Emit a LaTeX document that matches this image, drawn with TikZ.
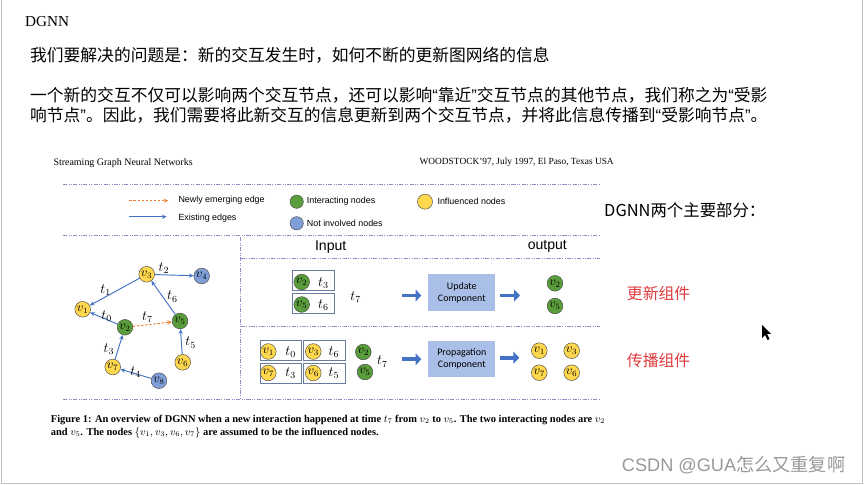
\documentclass[tikz,border=0pt]{standalone}
\usepackage{amsmath}
\usepackage{fontspec}
\setmainfont{Liberation Serif}
\setsansfont{Liberation Sans}
\newfontfamily\cjk{Noto Sans CJK SC}
\newfontfamily\cali{Carlito}
\usetikzlibrary{calc,arrows.meta}
\definecolor{sgreen}{HTML}{5A9E3C}
\definecolor{syellow}{HTML}{FFD84D}
\definecolor{sblue}{HTML}{7F9FD9}
\definecolor{sedge}{HTML}{4472C4}
\definecolor{sorange}{HTML}{ED7D31}
\definecolor{sframe}{HTML}{8C90C6}
\definecolor{sbox}{HTML}{A9BFE8}
\definecolor{sred}{HTML}{E03A3E}
\newcommand\zq[1]{{\sffamily “}#1{\sffamily ”}}

\begin{document}
\begin{tikzpicture}[x=0.03cm, y=-0.03cm,
    INN/.style={circle, draw=black!70, fill=sgreen, inner sep=0, minimum size=0.47cm, font=\fontsize{10.5}{10.5}\selectfont},
    IFN/.style={INN, fill=syellow},
    NIN/.style={INN, fill=sblue},
    EDG/.style={sedge, line width=0.8pt, -{Stealth[length=4pt,width=3.5pt]}},
    LAB/.style={inner sep=0, font=\fontsize{11.5}{11.5}\selectfont},
    FRM/.style={sframe, line width=0.8pt, dash pattern=on 3.5pt off 1.2pt on 0.8pt off 1.2pt on 0.8pt off 1.2pt},
    PAIR/.style={rectangle, draw=sedge!60!black!70, line width=0.6pt, minimum width=1.25cm, minimum height=0.6cm},
    COMP/.style={rectangle, fill=sbox, minimum width=2.01cm, minimum height=1.09cm, align=center, font=\cali\fontsize{8.5}{10}\selectfont},
    BIG/.style={sedge, line width=3.4pt, -{Triangle[length=5pt,width=10pt]}},
    LEG/.style={anchor=west, inner sep=0, font=\sffamily\fontsize{7.6}{8}\selectfont},
    ZH/.style={anchor=west, inner sep=0, font=\cjk\fontsize{14.3}{17}\selectfont}
    ]
    \fill[white] (0,0) rectangle (865,486);
    \useasboundingbox (0,0) rectangle (865,486);
    \draw[black!25] (0.8,0) -- (0.8,483.5) -- (862.5,483.5) -- (862.5,0);

    % slide text
    \node[anchor=west, inner sep=0, font=\fontsize{13}{14}\selectfont] (title) at (25,22) {DGNN};
    \node[ZH] (q1) at (30,55) {我们要解决的问题是：新的交互发生时，如何不断的更新图网络的信息};
    \node[ZH, anchor=north west, align=left, font=\cjk\fontsize{14.3}{17.2}\selectfont] (q2) at (30,87)
        {一个新的交互不仅可以影响两个交互节点，还可以影响\zq{靠近}交互节点的其他节点，我们称之为{\sffamily “}受影\\响节点{\sffamily ”}。因此，我们需要将此新交互的信息更新到两个交互节点，并将此信息传播到\zq{受影响节点}。};

    % paper header
    \node[anchor=west, inner sep=0, font=\fontsize{8.5}{9}\selectfont] (hl) at (53.3,162.7) {Streaming Graph Neural Networks};
    \node[anchor=east, inner sep=0, font=\fontsize{8}{9}\selectfont] (hr) at (614,162.7) {WOODSTOCK'97, July 1997, El Paso, Texas USA};

    % legend
    \coordinate (n0) at (129.3,200.7);
    \coordinate (n1) at (168.3,200.7);
    \coordinate (e0) at (129,216.7);
    \coordinate (e1) at (166.7,216.7);
    \draw[sorange, line width=0.8pt, dash pattern=on 2pt off 1.5pt, -{Stealth[length=4pt,width=3.5pt]}] (n0) -- (n1);
    \draw[EDG] (e0) -- (e1);
    \node[LEG] (ln) at (178.3,200) {Newly emerging edge};
    \node[LEG] (le) at (178.3,218.3) {Existing edges};
    \node[INN, minimum size=0.4cm] (gi) at (296.7,201.7) {};
    \node[NIN, minimum size=0.4cm] (gn) at (296.7,223.3) {};
    \node[IFN, minimum size=0.45cm] (gf) at (425,201.7) {};
    \node[LEG] (li) at (306.7,201.7) {Interacting nodes};
    \node[LEG] (lo) at (306.7,223.3) {Not involved nodes};
    \node[LEG] (lf) at (437.3,201.7) {Influenced nodes};

    % frame
    \draw[FRM] (63,184.3) -- (600,184.3);
    \draw[FRM] (63,235.5) -- (600,235.5);
    \draw[FRM] (63,399) -- (600,399);
    \draw[FRM] (240.7,237) -- (240.7,399);
    \draw[FRM] (240.7,258.3) -- (600,258.3);
    \draw[FRM] (240.7,326.7) -- (600,326.7);

    % graph
    \node[IFN] (v3) at (146.7,274.3) {$v_3$};
    \node[NIN] (v4) at (201.7,276) {$v_4$};
    \node[IFN] (v1) at (82.7,309.3) {$v_1$};
    \node[INN] (v2) at (125,327.3) {$v_2$};
    \node[INN] (v5) at (180,321) {$v_5$};
    \node[IFN] (v6) at (182.7,362.3) {$v_6$};
    \node[IFN] (v7) at (112.7,367) {$v_7$};
    \node[NIN] (v8) at (159,380.7) {$v_8$};
    \draw[EDG] (v3) -- (v1);
    \draw[EDG] (v3) -- (v4);
    \draw[EDG] (v2) -- (v1);
    \draw[EDG] (v5) -- (v3);
    \draw[EDG] (v6) -- (v5);
    \draw[EDG] (v7) -- (v2);
    \draw[EDG] (v8) -- (v7);
    \draw[sorange, line width=0.8pt, dash pattern=on 2pt off 1.5pt, -{Stealth[length=4pt,width=3.5pt]}] (v2) -- (v5);
    \node[LAB] (t2) at (164,268) {$t_2$};
    \node[LAB] (t1) at (105.7,290) {$t_1$};
    \node[LAB] (t6) at (172.3,296.7) {$t_6$};
    \node[LAB] (t0) at (106.7,316) {$t_0$};
    \node[LAB] (t7) at (147.3,317.3) {$t_7$};
    \node[LAB] (t5) at (190.7,342.7) {$t_5$};
    \node[LAB] (t3) at (109,349.3) {$t_3$};
    \node[LAB] (t4) at (135.7,372.3) {$t_4$};

    % input / output
    \node[inner sep=0, font=\sffamily\fontsize{12}{12}\selectfont] (inp) at (330.7,246.7) {Input};
    \node[inner sep=0, font=\sffamily\fontsize{12}{12}\selectfont] (outp) at (547.3,246.7) {output};

    % update row
    \node[PAIR] (B1) at (313.5,280.7) {};
    \node[PAIR] (B2) at (313.5,303.7) {};
    \node[INN] (U2) at (301.7,282) {$v_2$};
    \node[LAB] (U3) at (323.3,283) {$t_3$};
    \node[INN] (U5) at (301.7,304.5) {$v_5$};
    \node[LAB] (U6) at (323.3,305.5) {$t_6$};
    \node[LAB] (U7) at (355.7,297.3) {$t_7$};
    \node[COMP] (upd) at (461.8,292.5) {Update\\Component};
    \coordinate (ua) at (401.7,295.5);
    \coordinate (ub) at (520,295.5);
    \draw[BIG, shorten >=2mm] (ua) -- (ua -| upd.west);
    \draw[BIG, shorten <=1.4mm] (upd.east |- ub) -- (ub);
    \node[INN] (O2) at (555,283.3) {$v_2$};
    \node[INN] (O5) at (555,306) {$v_5$};

    % propagation row
    \node[PAIR] (C1) at (280.8,350) {};
    \node[PAIR] (C2) at (324.6,350) {};
    \node[PAIR] (C3) at (280.8,373) {};
    \node[PAIR] (C4) at (324.6,373) {};
    \node[IFN] (P1) at (268.3,351.5) {$v_1$};
    \node[LAB] (Q0) at (290.7,352) {$t_0$};
    \node[IFN] (P3) at (313.3,351.5) {$v_3$};
    \node[LAB] (Q6) at (334,352) {$t_6$};
    \node[IFN] (P7) at (268.3,373) {$v_7$};
    \node[LAB] (Q3) at (290.7,373.5) {$t_3$};
    \node[IFN] (P6) at (313.3,373) {$v_6$};
    \node[LAB] (Q5) at (334,373.5) {$t_5$};
    \node[INN] (P2) at (363.3,352) {$v_2$};
    \node[INN] (P5) at (365,372) {$v_5$};
    \node[LAB] (Q7) at (382.3,361.7) {$t_7$};
    \node[COMP] (prop) at (461.8,358.7) {Propagation\\Component};
    \coordinate (pa) at (401.7,359.3);
    \coordinate (pb) at (519.3,357.7);
    \draw[BIG, shorten >=2mm] (pa) -- (pa -| prop.west);
    \draw[BIG, shorten <=1.2mm] (prop.east |- pb) -- (pb);
    \node[IFN] (R1) at (539.3,350.7) {$v_1$};
    \node[IFN] (R3) at (571.7,350.7) {$v_3$};
    \node[IFN] (R7) at (539.3,372.7) {$v_7$};
    \node[IFN] (R6) at (571.7,372.7) {$v_6$};

    % caption
    \node[anchor=north west, inner sep=0, align=left, font=\bfseries\fontsize{8.9}{10.8}\selectfont] (cap) at (50.7,415)
        {Figure 1: An overview of DGNN when a new interaction happened at time $t_7$ from $v_2$ to $v_5$. The two interacting nodes are $v_2$\\
         and $v_5$. The nodes $\{v_1,v_3,v_6,v_7\}$ are assumed to be the influenced nodes.};

    % notes on the right
    \node[ZH, font=\cjk\fontsize{14}{16}\selectfont] (rt) at (604,210) {DGNN两个主要部分：};
    \node[ZH, text=sred, font=\cjk\fontsize{13.5}{16}\selectfont] (r1) at (626.7,293.3) {更新组件};
    \node[ZH, text=sred, font=\cjk\fontsize{13.5}{16}\selectfont] (r2) at (626.7,360) {传播组件};
    \fill[black] (762,325) -- (762,338) -- (765,335) -- (767.5,340) -- (769.5,339) -- (767,334) -- (771,334) -- cycle;

    % watermark
    \node[ZH, text=black!40, font=\fontsize{15.5}{17}\selectfont] (wm) at (621.7,465) {\sffamily CSDN @GUA\cjk 怎么又重复啊};
\end{tikzpicture}
\end{document}
